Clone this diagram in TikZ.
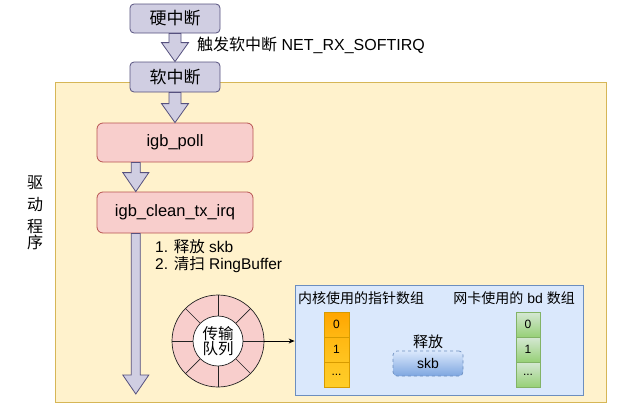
\documentclass[tikz,border=0pt]{standalone}
\usepackage{fontspec}
\setmainfont{Liberation Sans}
\newfontfamily\cjk{Noto Sans CJK SC}
\usetikzlibrary{calc,arrows.meta}
\definecolor{lavfill}{HTML}{D0CEE2}
\definecolor{lavdraw}{HTML}{56517E}
\definecolor{pinkfill}{HTML}{F8CECC}
\definecolor{pinkdraw}{HTML}{B85450}
\definecolor{yelfill}{HTML}{FFF2CC}
\definecolor{yeldraw}{HTML}{D6B656}
\definecolor{bluefill}{HTML}{DAE8FC}
\definecolor{bluedraw}{HTML}{6C8EBF}
\definecolor{bluedark}{HTML}{7EA6E0}
\definecolor{orA}{HTML}{FFA500}
\definecolor{orB}{HTML}{FFB812}
\definecolor{orC}{HTML}{FFC420}
\definecolor{orD}{HTML}{FFCD28}
\definecolor{ordraw}{HTML}{D79B00}
\definecolor{grtop}{HTML}{D5E8D4}
\definecolor{grbot}{HTML}{97D077}
\definecolor{grdraw}{HTML}{82B366}
\definecolor{ringline}{HTML}{222222}
\newcommand\zh[1]{{\cjk #1}}
\newcommand\fs[1]{\fontsize{#1}{#1}\selectfont}
\tikzset{
  lavbox/.style={draw=lavdraw, fill=lavfill, rounded corners=4pt, line width=0.8pt, minimum width=90, inner sep=0pt},
  pinkbox/.style={draw=pinkdraw, fill=pinkfill, rounded corners=6pt, line width=0.8pt, minimum width=156, inner sep=0pt, font=\fs{16.5}},
  barrow/.style={draw=lavdraw, fill=lavfill, line width=0.8pt, line join=miter},
  ocell/.style={draw=ordraw, line width=0.7pt, minimum width=25, minimum height=25, inner sep=0pt, font=\fs{12}},
  gcell/.style={draw=grdraw, line width=0.7pt, top color=grtop, bottom color=grbot, minimum width=24, minimum height=25, inner sep=0pt, font=\fs{12}},
  plain/.style={inner sep=0pt, anchor=base west},
}
\newcommand\blockarrow[4]{%
  \draw[barrow] let \p1=(#1), \p2=(#2) in
    (\x1-#3,\y1) -- (\x1-#3,\y2+19pt) -- (\x1-#4,\y2+19pt) -- (\x1,\y2)
    -- (\x1+#4,\y2+19pt) -- (\x1+#3,\y2+19pt) -- (\x1+#3,\y1) -- cycle;}
\begin{document}
\begin{tikzpicture}[x=1pt,y=-1pt]
\useasboundingbox (0,0) rectangle (644,410);
% container
\node[draw=yeldraw, fill=yelfill, line width=0.8pt, minimum width=551, minimum height=320, inner sep=0pt] (drv) at (330.5,242) {};
\node[inner sep=0pt, align=center, font=\fs{16}\cjk, text width=20] (drvlabel) at (35,213) {\baselineskip=22pt 驱\\动\\程\\序};
% top boxes
\node[lavbox, minimum height=29, font=\fs{17}\cjk] (hard) at (175,18.5) {硬中断};
\node[lavbox, minimum height=30, font=\fs{17}\cjk] (soft) at (175,77) {软中断};
\blockarrow{hard.south}{soft.north}{6pt}{13.5pt}
\node[plain, font=\fs{16}] (trig) at (197,50.5) {\zh{触发软中断} NET\_RX\_SOFTIRQ};
% pink boxes
\node[pinkbox, minimum height=39] (poll) at (175,142.5) {igb\_poll};
\node[pinkbox, minimum height=41] (clean) at (175,212.5) {igb\_clean\_tx\_irq};
\blockarrow{soft.south}{poll.north}{6pt}{13.5pt}
\coordinate (pa) at ($(poll.south west)!0.5!(poll.south)$);
\coordinate (pb) at ($(clean.north west)!0.5!(clean.north)$);
\blockarrow{pa}{pb}{4.5pt}{13pt}
\coordinate (ca) at ($(clean.south west)!0.5!(clean.south)$);
\coordinate (qend) at (136,394);
\blockarrow{ca}{qend}{4.5pt}{13pt}
\node[inner sep=0pt, anchor=north west, align=left, font=\fs{15.5}] (steps) at (155,239) {1. \zh{释放} skb\\[2pt]2. \zh{清扫} RingBuffer};
% ring
\node[circle, draw=ringline, fill=pinkfill, line width=0.7pt, minimum size=92, inner sep=0pt] (ring) at (218,341) {};
\foreach \a in {0,45,...,315} \draw[ringline, line width=0.7pt] (ring.center) ++(\a:25) -- ++(\a:21);
\node[circle, draw=ringline, fill=white, line width=0.7pt, minimum size=50, inner sep=0pt, align=center, font=\fs{15.5}\cjk] (ringin) at (ring.center) {\baselineskip=19pt 传输\\队列};
% blue box
\node[draw=bluedraw, fill=bluefill, line width=0.8pt, minimum width=288, minimum height=110, inner sep=0pt] (bd) at (439,340) {};
\draw[-{Stealth[length=6pt,width=5pt]}, line width=0.8pt] (ring.east) -- (ring.east -| bd.west);
\node[inner sep=0pt, anchor=west, font=\fs{14}\cjk] (kl) at (298,298) {内核使用的指针数组};
\node[inner sep=0pt, anchor=east, font=\fs{14}] (nl) at (575,298) {\zh{网卡使用的} bd \zh{数组}};
\node[ocell, top color=orA, bottom color=orB] (o0) at (336.5,324.5) {0};
\node[ocell, top color=orB, bottom color=orC] (o1) at (336.5,349.5) {1};
\node[ocell, top color=orC, bottom color=orD] (o2) at (336.5,374.5) {...};
\node[gcell] (g0) at (528,324.5) {0};
\node[gcell] (g1) at (528,349.5) {1};
\node[gcell] (g2) at (528,374.5) {...};
\node[inner sep=0pt, font=\fs{15}\cjk] (rel) at (428,342) {释放};
\node[draw=bluedraw, dashed, line width=0.7pt, top color=bluefill, bottom color=bluedark, rounded corners=4pt, minimum width=70, minimum height=25, inner sep=0pt, font=\fs{14}] (skb) at (428,363.5) {skb};
\end{tikzpicture}
\end{document}
